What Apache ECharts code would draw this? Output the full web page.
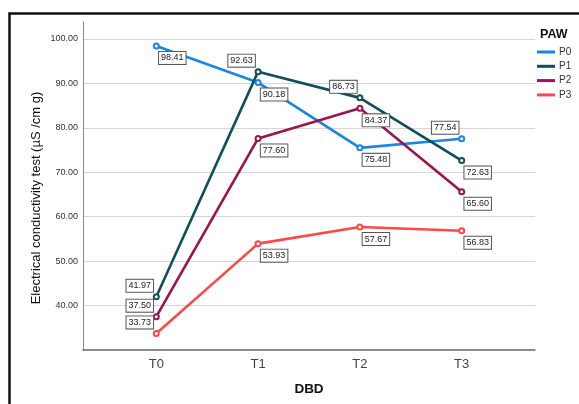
<!DOCTYPE html>
<html>
<head>
<meta charset="utf-8">
<script src="https://cdn.jsdelivr.net/npm/echarts@6/dist/echarts.min.js"></script>
<style>
  html, body { margin: 0; padding: 0; background: #fff; }
  #chart { width: 579px; height: 404px; }
</style>
</head>
<body>
<div id="chart"></div>
<script>
// Electrical conductivity per DBD treatment time, one line per PAW group
const categories = ['T0', 'T1', 'T2', 'T3'];
const seriesNames = ['P0', 'P1', 'P2', 'P3'];
const p0 = [98.41, 90.18, 75.48, 77.54];
const p1 = [41.97, 92.63, 86.73, 72.63];
const p2 = [37.50, 77.60, 84.37, 65.60];
const p3 = [33.73, 53.93, 57.67, 56.83];
const yTickValues = [40, 50, 60, 70, 80, 90, 100];

const FONT = 'Liberation Sans, Arial, sans-serif';
const colors = ['#1a86e2', '#0f4f5b', '#9c1350', '#ff4848'];

// label box either below-right or above-left of its point
const BR = [16, 12];
const AL = [-16.5, -11];
const labelSides = [
  [BR, BR, BR, AL],
  [AL, AL, AL, BR],
  [AL, BR, BR, BR],
  [AL, BR, BR, BR]
];

const allValues = [p0, p1, p2, p3];

const series = allValues.map((vals, s) => ({
  name: seriesNames[s],
  type: 'line',
  symbol: 'emptyCircle',
  symbolSize: 5,
  color: colors[s],
  lineStyle: { width: 2.6, color: colors[s] },
  itemStyle: { color: colors[s], borderWidth: 1.2 },
  data: vals.map((v, i) => ({
    value: [i, v],
    label: {
      show: true,
      position: 'inside',
      offset: labelSides[s][i],
      formatter: p => p.value[1].toFixed(2),
      fontFamily: FONT,
      fontSize: 9,
      color: '#222',
      backgroundColor: '#fff',
      borderColor: '#555',
      borderWidth: 1,
      padding: [2, 2, 1, 2]
    }
  })),
  emphasis: { disabled: true },
  animation: false
}));

const chart = echarts.init(document.getElementById('chart'), null, { renderer: 'canvas' });
chart.setOption({
  animation: false,
  textStyle: { fontFamily: FONT },
  grid: { left: 83, right: 44, top: 22, bottom: 54 },
  title: {
    text: 'PAW',
    left: 540,
    top: 28,
    padding: 0,
    textStyle: { fontFamily: FONT, fontSize: 12.5, fontWeight: 'bold', color: '#111' }
  },
  legend: {
    data: seriesNames,
    orient: 'vertical',
    left: 537,
    top: 47,
    padding: 0,
    icon: 'rect',
    itemWidth: 18,
    itemHeight: 3,
    itemGap: 4.3,
    textStyle: { fontFamily: FONT, fontSize: 10, color: '#333', padding: [0, 0, 0, -1] }
  },
  xAxis: {
    type: 'value',
    min: -0.72,
    max: 3.72,
    name: 'DBD',
    nameLocation: 'middle',
    nameGap: 32,
    nameTextStyle: { fontFamily: FONT, fontSize: 13.5, fontWeight: 'bold', color: '#111' },
    axisLine: { show: true, onZero: false, lineStyle: { color: '#666', width: 1.5 } },
    axisTick: { show: false },
    splitLine: { show: false },
    axisLabel: {
      customValues: [0, 1, 2, 3],
      formatter: v => categories[Math.round(v)],
      fontSize: 13,
      color: '#444',
      margin: 8
    }
  },
  yAxis: {
    type: 'value',
    min: 30,
    max: 103.8,
    interval: 10,
    axisLine: { show: true, onZero: false, lineStyle: { color: '#888', width: 1 } },
    axisTick: { show: false },
    splitLine: {
      show: true,
      showMinLine: false,
      showMaxLine: false,
      lineStyle: { color: '#d6d6d6', width: 1.2 }
    },
    axisLabel: {
      customValues: yTickValues,
      formatter: v => v.toFixed(2),
      fontSize: 9,
      color: '#333',
      margin: 5
    }
  },
  graphic: [
    {
      type: 'rect',
      silent: true,
      shape: { x: 9.5, y: 13.5, width: 700, height: 500 },
      style: { fill: 'none', stroke: '#111', lineWidth: 2.5 }
    },
    {
      type: 'text',
      silent: true,
      x: 36,
      y: 198,
      rotation: Math.PI / 2,
      style: {
        text: 'Electrical conductivity test (µS /cm g)',
        font: '13px ' + FONT,
        fill: '#111',
        align: 'center',
        verticalAlign: 'middle'
      }
    }
  ],
  series: series
});
</script>
</body>
</html>
